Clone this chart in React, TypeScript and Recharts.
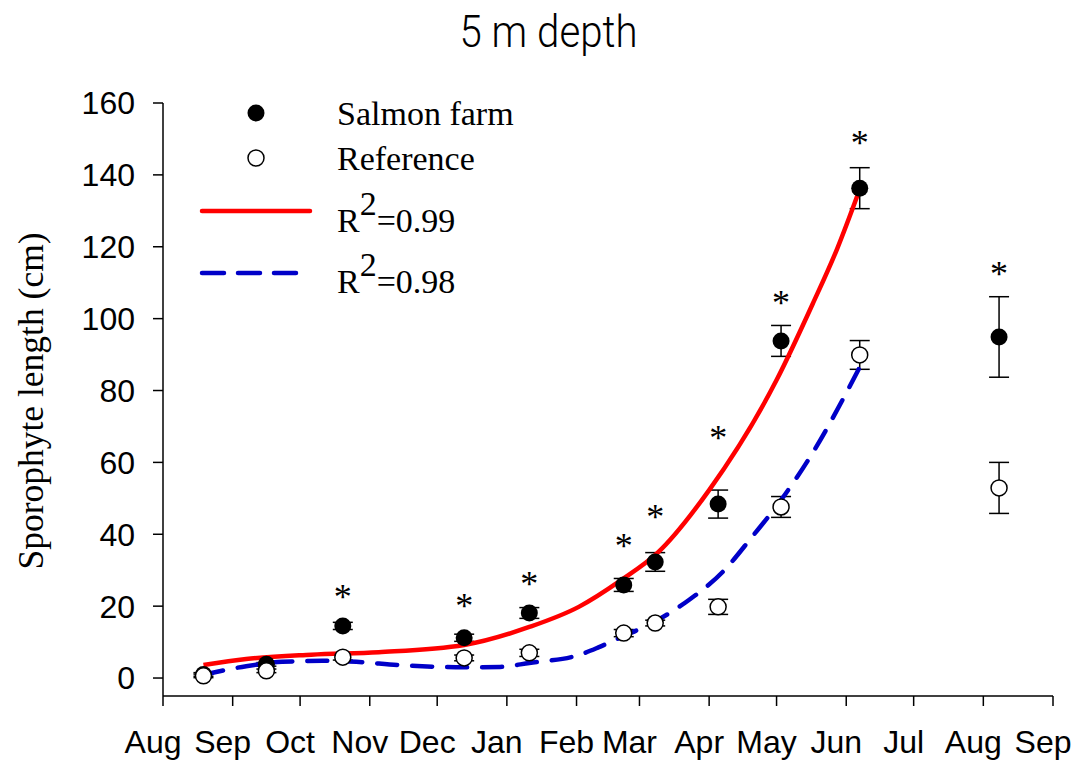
import React from "react";
import { ComposedChart, Line, Scatter, XAxis, YAxis, ErrorBar } from "recharts";

// x = days since 1 Aug
const monthTicks = [0, 31, 61, 92, 122, 153, 184, 212, 243, 273, 304, 334, 365, 396];
const monthLabels = ["Aug", "Sep", "Oct", "Nov", "Dec", "Jan", "Feb", "Mar", "Apr", "May", "Jun", "Jul", "Aug", "Sep"];
const yTicks = [0, 20, 40, 60, 80, 100, 120, 140, 160];

const sampleDays = [18, 46, 80, 134, 163, 205, 219, 247, 275, 310, 372];
const farmLength = [1.0, 3.8, 14.5, 11.2, 18.1, 25.9, 32.3, 48.4, 93.8, 136.3, 94.9];
const farmErr = [0.5, 0.5, 1.0, 1.0, 1.5, 1.8, 2.6, 3.9, 4.3, 5.7, 11.2];
const refLength = [0.6, 2.0, 5.8, 5.6, 7.0, 12.5, 15.3, 19.8, 47.6, 89.9, 52.9];
const refErr = [0.5, 0.5, 0.8, 0.8, 1.0, 1.0, 0.8, 2.1, 2.9, 4.0, 7.1];

// significant differences (*)
const starDays = [80, 134, 163, 205, 219, 247, 275, 310, 372];
const starLevel = [24.0, 21.4, 27.5, 38.1, 46.2, 68.2, 105.7, 150.2, 113.8];

// fitted curves
const farmFitDays = [18, 37, 66, 96, 134, 163, 185, 204, 220, 243, 273, 289, 300, 310];
const farmFit = [3.6, 5.3, 6.5, 7.2, 9.2, 14.2, 19.8, 27.3, 34.8, 52.3, 82.9, 104, 119.5, 136];
const refFitDays = [18, 37, 53, 71, 86, 105, 134, 150, 163, 185, 194, 204, 220, 234, 249, 262, 274, 289, 304, 310];
const refFit = [0.9, 3.3, 4.5, 4.8, 4.5, 3.6, 3.0, 3.1, 4.2, 6.4, 8.6, 11.4, 16.1, 21.7, 29.5, 39.2, 48.7, 62.6, 79.3, 86.5];

const farmData = sampleDays.map((x, i) => ({ x, y: farmLength[i], err: farmErr[i] }));
const refData = sampleDays.map((x, i) => ({ x, y: refLength[i], err: refErr[i] }));
const starData = starDays.map((x, i) => ({ x, y: starLevel[i] }));
const farmFitData = farmFitDays.map((x, i) => ({ x, y: farmFit[i] }));
const refFitData = refFitDays.map((x, i) => ({ x, y: refFit[i] }));

const serif = "'Liberation Serif', 'Times New Roman', serif";
const sans = "'Liberation Sans', Arial, sans-serif";

const FilledDot = (p: any) => <circle cx={p.cx} cy={p.cy} r={8.5} fill="#000" />;
const OpenDot = (p: any) => <circle cx={p.cx} cy={p.cy} r={8} fill="#fff" stroke="#000" strokeWidth={1.5} />;
const Star = (p: any) => (
  <text x={p.cx} y={p.cy + 17} textAnchor="middle" fontFamily={serif} fontSize={36} fill="#000">
    *
  </text>
);

const MonthTick = (p: any) => (
  <text x={p.x - 10} y={p.y} dy="0.71em" textAnchor="middle" fontFamily={sans} fontSize={32} fill="#000">
    {monthLabels[monthTicks.indexOf(p.payload.value)]}
  </text>
);

// title + legend drawn on top of the chart
const Overlay = () => (
  <svg width={1079} height={320} style={{ position: "absolute", left: 0, top: 0, pointerEvents: "none" }}>
    <text x={548.5} y={47} textAnchor="middle" fontFamily="Roboto, sans-serif" fontWeight={300} fontSize={45} fill="#000" textLength={178} lengthAdjust="spacingAndGlyphs">
      5 m depth
    </text>
    <circle cx={256} cy={113} r={8.5} fill="#000" />
    <text x={337} y={125} fontFamily={serif} fontSize={34} fill="#000">Salmon farm</text>
    <circle cx={256} cy={158} r={8} fill="#fff" stroke="#000" strokeWidth={1.5} />
    <text x={337} y={170} fontFamily={serif} fontSize={34} fill="#000">Reference</text>
    <line x1={202} y1={211} x2={310} y2={211} stroke="#ff0000" strokeWidth={4.5} strokeLinecap="round" />
    <text x={337} y={232} fontFamily={serif} fontSize={34} fill="#000">
      R<tspan dy={-17}>2</tspan><tspan dy={17}>=0.99</tspan>
    </text>
    <line x1={202} y1={273} x2={298} y2={273} stroke="#0000c8" strokeWidth={4.5} strokeLinecap="round" strokeDasharray="22 14" />
    <text x={337} y={293} fontFamily={serif} fontSize={34} fill="#000">
      R<tspan dy={-17}>2</tspan><tspan dy={17}>=0.98</tspan>
    </text>
  </svg>
);

export default function App() {
  return (
    <div style={{ position: "absolute", left: 0, top: 0, width: 1079, height: 763, background: "#fff" }}>
      <ComposedChart width={1079} height={763} margin={{ top: 103, right: 26, left: 83, bottom: 0 }}>
        <XAxis
          type="number"
          dataKey="x"
          domain={[0, 396]}
          ticks={monthTicks}
          interval={0}
          height={67}
          tickSize={10}
          tickMargin={24}
          axisLine={{ stroke: "#000", strokeWidth: 1.5 }}
          tickLine={{ stroke: "#000", strokeWidth: 1.5 }}
          tick={<MonthTick />}
        />
        <YAxis
          type="number"
          dataKey="y"
          domain={[-5, 160]}
          ticks={yTicks}
          interval={0}
          width={80}
          tickSize={10}
          tickMargin={18}
          axisLine={{ stroke: "#000", strokeWidth: 1.5 }}
          tickLine={{ stroke: "#000", strokeWidth: 1.5 }}
          tick={{ fill: "#000", fontSize: 32, fontFamily: sans }}
          label={{
            content: () => (
              <text x={31} y={401} transform="rotate(-90 31 401)" textAnchor="middle" dominantBaseline="central" fontFamily={serif} fontSize={35.5} fill="#000">
                Sporophyte length (cm)
              </text>
            ),
          }}
        />
        <Scatter data={starData} shape={Star} isAnimationActive={false} legendType="none" />
        <Scatter data={farmData} shape={FilledDot} isAnimationActive={false}>
          <ErrorBar dataKey="err" direction="y" width={10} stroke="#000" strokeWidth={1.5} />
        </Scatter>
        <Scatter data={refData} shape={OpenDot} isAnimationActive={false}>
          <ErrorBar dataKey="err" direction="y" width={10} stroke="#000" strokeWidth={1.5} />
        </Scatter>
        <Line data={farmFitData} dataKey="y" type="monotone" stroke="#ff0000" strokeWidth={4.5} dot={false} activeDot={false} isAnimationActive={false} />
        <Line data={refFitData} dataKey="y" type="monotone" stroke="#0000c8" strokeWidth={4.5} strokeDasharray="20 15" strokeLinecap="round" dot={false} activeDot={false} isAnimationActive={false} />
      </ComposedChart>
      <Overlay />
    </div>
  );
}
